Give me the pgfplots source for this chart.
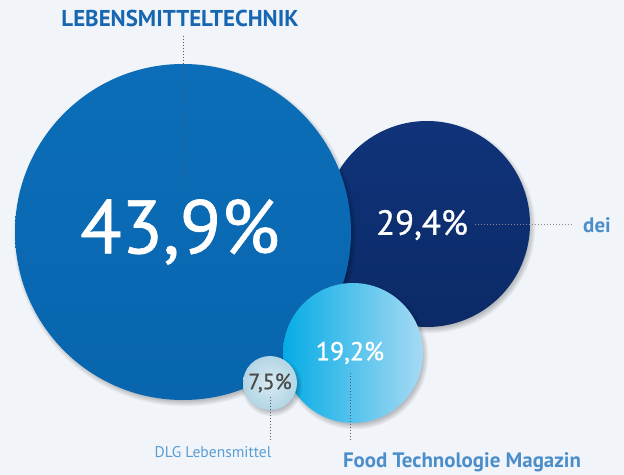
\documentclass[border=0pt]{standalone}
\usepackage{fontspec}
\setmainfont{PT Sans}
\newfontfamily\pctfont[FakeBold=0.9]{PT Sans}
\usepackage{pgfplots}
\pgfplotsset{compat=1.18}
\definecolor{bg}{HTML}{F1F5F9}
\definecolor{bigtop}{HTML}{0C6EB8}
\definecolor{bigbot}{HTML}{0865AE}
\definecolor{darktop}{HTML}{10337A}
\definecolor{darkbot}{HTML}{0B2A66}
\definecolor{lbL}{HTML}{05ACE6}
\definecolor{lbM}{HTML}{00B8EC}
\definecolor{lbR}{HTML}{A6DAF4}
\definecolor{smIn}{HTML}{D8EBF3}
\definecolor{smOut}{HTML}{B2D5E5}
\definecolor{titleblue}{HTML}{1766B1}
\definecolor{labblue}{HTML}{4B8ECB}
\definecolor{dlgblue}{HTML}{5A9DD3}
\definecolor{dots}{HTML}{555A60}

\newcommand{\softshadow}[1]{%
  \foreach \k in {0,...,6}{\fill[black,draw=none,opacity=0.035] (2bp,-3bp) circle[radius=#1bp+\k*0.9bp];}}

\pgfdeclareplotmark{bigc}{\softshadow{166}\shade[draw=none,top color=bigtop,bottom color=bigbot] (0,0) circle[radius=168bp];}
\pgfdeclareplotmark{darkc}{\softshadow{101}\shade[draw=none,top color=darktop,bottom color=darkbot] (0,0) circle[radius=103bp];}
\pgfdeclareplotmark{lightc}{\softshadow{68}\shade[draw=none,left color=lbL,middle color=lbM,right color=lbR] (0,0) circle[radius=70bp];}
\pgfdeclareplotmark{smallc}{\softshadow{25}\shade[draw=none,inner color=smIn,outer color=smOut] (0,0) circle[radius=27bp];}

\begin{document}
\begin{tikzpicture}
\begin{axis}[scale only axis, width=624bp, height=475bp,
  xmin=0, xmax=624, ymin=0, ymax=475, y dir=reverse,
  hide axis, clip=false, set layers=standard]
% background
\addplot[fill=bg, draw=none, on layer=axis background] coordinates {(0,0) (624,0) (624,475) (0,475)} -- cycle;
% circles (x, y) in pixel units
\addplot[only marks, mark=darkc, mark options={draw=none}] coordinates {(427,224)};
\addplot[only marks, mark=bigc, mark options={draw=none}] coordinates {(183,232)};
\addplot[only marks, mark=lightc, mark options={draw=none}] coordinates {(353,353)};
\addplot[only marks, mark=smallc, mark options={draw=none}] coordinates {(270,383)};
% leader lines
\addplot[dots, dotted, line width=1bp, on layer=axis foreground] coordinates {(183,36) (183,64)};
\addplot[dots!80!bigbot, dotted, line width=1bp, on layer=axis foreground] coordinates {(183,64) (183,184)};
\addplot[dots!70!white, dotted, line width=1bp, on layer=axis foreground] coordinates {(475,225) (572,225)};
\addplot[dots, dotted, line width=1bp, on layer=axis foreground] coordinates {(350,373) (350,441)};
\addplot[dots, dotted, line width=1bp, on layer=axis foreground] coordinates {(270,397) (270,441)};
\begin{pgfonlayer}{axis foreground}
% value labels
\node[text=white,font=\pctfont\fontsize{76}{80}\selectfont] at (axis cs:180,232) {43,9\%};
\node[text=white,font=\pctfont\fontsize{35}{40}\selectfont] at (axis cs:422,225) {29,4\%};
\node[text=white,font=\pctfont\fontsize{26}{30}\selectfont] at (axis cs:350,353) {19,2\%};
\node[text=black!70,font=\pctfont\fontsize{22}{26}\selectfont] at (axis cs:270,383) {7,5\%};
% names
\node[text=titleblue,font=\bfseries\fontsize{23}{27}\selectfont] at (axis cs:180,18) {LEBENSMITTELTECHNIK};
\node[text=labblue,font=\bfseries\fontsize{21}{25}\selectfont] at (axis cs:597,225) {dei};
\node[text=labblue,font=\bfseries\fontsize{21}{25}\selectfont] at (axis cs:462,462) {Food Technologie Magazin};
\node[text=dlgblue,font=\fontsize{15.6}{18}\selectfont] at (axis cs:213,452) {DLG Lebensmittel};
\end{pgfonlayer}
\end{axis}
\end{tikzpicture}
\end{document}
